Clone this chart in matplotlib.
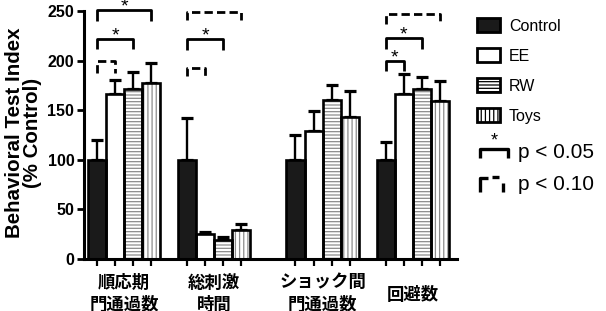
import numpy as np
import matplotlib
matplotlib.use("Agg")
import matplotlib.pyplot as plt
from matplotlib.patches import Patch
from matplotlib.lines import Line2D
from matplotlib.transforms import blended_transform_factory

plt.rcParams["font.family"] = ["Liberation Sans", "Noto Sans CJK JP"]
plt.rcParams["hatch.linewidth"] = 0.9

# データ
groups = [["順応期", "門通過数"], ["総刺激", "時間"], ["ショック間", "門通過数"], ["回避数"]]
series = ["Control", "EE", "RW", "Toys"]
means = {
    "Control": [100, 100, 100, 100],
    "EE": [166, 25, 129, 166],
    "RW": [171, 19, 160, 171],
    "Toys": [177, 29, 143, 159],
}
errs = {
    "Control": [20, 42, 25, 18],
    "EE": [14, 2, 20, 20],
    "RW": [18, 3, 15, 12],
    "Toys": [21, 6, 26, 20],
}
group_start = [0, 5, 11, 16]
# (グループ, 始点系列, 終点系列, 高さ, 脚の下端, p<0.05 なら True)
brackets = [
    (0, 0, 3, 251, 240, True),
    (0, 0, 2, 222, 212, True),
    (0, 0, 1, 200, 188, False),
    (1, 0, 3, 249, 241, False),
    (1, 0, 2, 222, 211, True),
    (1, 0, 1, 193, 184, False),
    (3, 0, 3, 247, 237, False),
    (3, 0, 2, 223, 212, True),
    (3, 0, 1, 200, 190, True),
]

faces = {"Control": "#1a1a1a", "EE": "white", "RW": "white", "Toys": "white"}
hatches = {"Control": None, "EE": None, "RW": "-----", "Toys": "||||"}
dash = (0, (3.0, 1.5))

W, H = 606, 311
fig = plt.figure(figsize=(W / 100, H / 100), dpi=100)
ax = fig.add_axes([84 / W, 1 - 259 / H, (457 - 84) / W, (259 - 11) / H])

xpos = np.array(group_start, dtype=float)
for k, name in enumerate(series):
    x = xpos + k
    ax.bar(x, means[name], width=1, color=faces[name], edgecolor="0.55",
           hatch=hatches[name], linewidth=0, zorder=2)
    ax.bar(x, means[name], width=1, facecolor="none", edgecolor="black",
           linewidth=1.9, zorder=3)
    ax.errorbar(x, means[name], yerr=[np.zeros(len(x)), errs[name]], fmt="none",
                ecolor="black", elinewidth=1.7, capsize=4.4, capthick=2.3, zorder=1)

# 有意差のブラケット
for g, a, b, top, leg, sig in brackets:
    x0 = group_start[g] + a
    x1 = group_start[g] + b
    ax.plot([x0, x0, x1, x1], [leg, top, top, leg], color="black", lw=2.0,
            ls="-" if sig else dash, clip_on=False, solid_capstyle="butt", zorder=4)
    if sig:
        ax.text((x0 + x1) / 2, top + 3, "*", ha="center", va="center",
                fontsize=14, clip_on=False)

ax.set_ylim(0, 250)
ax.set_xlim(-0.72, 19.95)
ax.set_yticks([0, 50, 100, 150, 200, 250])
ax.set_yticklabels(["0", "50", "100", "150", "200", "250"], fontsize=11.5, fontweight="bold")
ax.set_xticks(np.concatenate([xpos + k for k in range(4)]))
ax.set_xticklabels([])
ax.tick_params(axis="y", direction="out", length=5, width=2, pad=2)
ax.tick_params(axis="x", direction="out", length=5, width=1.6)
for side in ["top", "right"]:
    ax.spines[side].set_visible(False)
for side in ["left", "bottom"]:
    ax.spines[side].set_linewidth(2.2)

ax.set_ylabel("Behavioral Test Index\n(% Control)", fontsize=14.8, fontweight="bold",
              linespacing=0.95)
ax.yaxis.set_label_coords(-0.112, 0.51)

# グループ名
trans = blended_transform_factory(ax.transData, fig.transFigure)
for g, lines in enumerate(groups):
    cx = group_start[g] + 1.5
    ys = [282, 304] if len(lines) == 2 else [294]
    for line, yp in zip(lines, ys):
        ax.text(cx, 1 - yp / H, line, transform=trans, ha="center", va="center",
                fontsize=12.5, fontweight="bold", clip_on=False)

# 凡例
handles = [Patch(facecolor=faces[s], edgecolor="black", hatch=hatches[s], linewidth=2)
           for s in series]
ax.legend(handles, series, loc="upper left", bbox_to_anchor=(477 / W, 1 - 18 / H),
          bbox_transform=fig.transFigure, frameon=False, fontsize=11.5,
          handlelength=1.45, handleheight=1.0, labelspacing=0.9, handletextpad=0.55,
          borderpad=0, borderaxespad=0)


def fpx(xs, ys):
    return [v / W for v in xs], [1 - v / H for v in ys]


def glyph(xs, ys):
    fx, fy = fpx(xs, ys)
    fig.add_artist(Line2D(fx, fy, color="black", lw=2.4, solid_capstyle="butt"))


glyph([480, 480, 508, 508], [158, 149, 149, 158])
fig.text(494 / W, 1 - 141 / H, "*", ha="center", va="center", fontsize=13)
glyph([480, 480, 488], [192, 178, 178])
glyph([492, 499], [177, 177])
glyph([503, 503], [183, 192])
fig.text(518 / W, 1 - 153 / H, "p < 0.05", ha="left", va="center", fontsize=15)
fig.text(518 / W, 1 - 185 / H, "p < 0.10", ha="left", va="center", fontsize=15)

fig.savefig("out.png", dpi=100)
